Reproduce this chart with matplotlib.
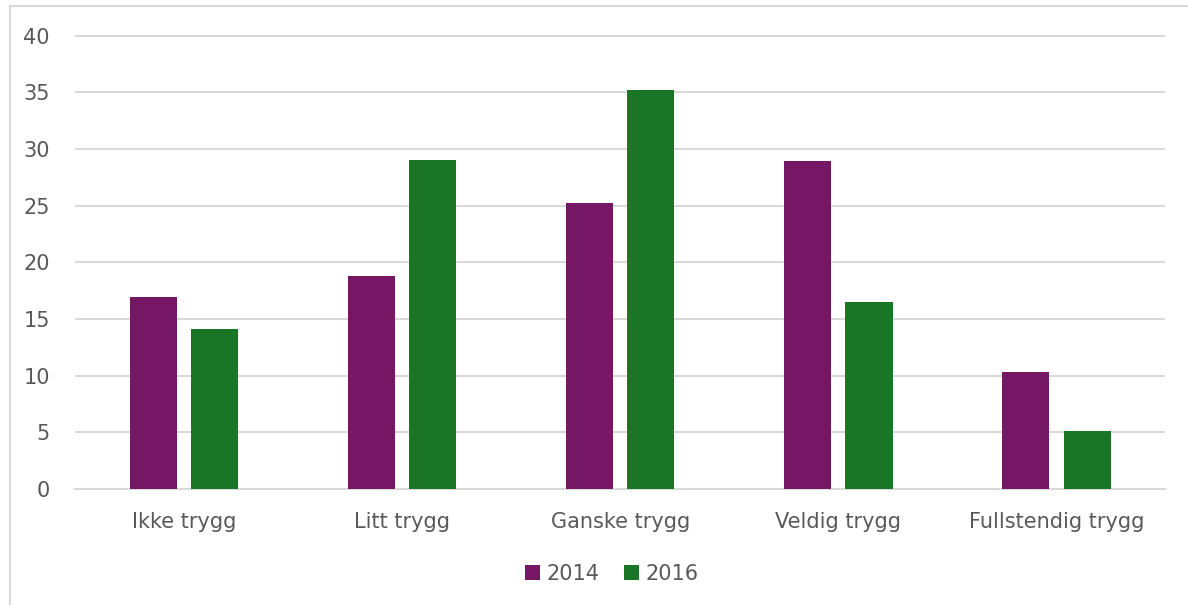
import matplotlib.pyplot as plt
import numpy as np
from matplotlib.lines import Line2D

categories = ['Ikke trygg', 'Litt trygg', 'Ganske trygg', 'Veldig trygg', 'Fullstendig trygg']
years = ['2014', '2016']
v2014 = [16.9, 18.8, 25.2, 28.9, 10.3]
v2016 = [14.1, 29.0, 35.2, 16.5, 5.1]

purple = '#761766'
green = '#1a7526'
txt = '#595959'
grid = '#d9d9d9'

plt.rcParams['font.family'] = ['DejaVu Sans']

fig = plt.figure(figsize=(11.88, 6.05), dpi=100)
ax = fig.add_axes([0.063, 0.192, 0.918, 0.750])

x = np.arange(len(categories))
w = 0.216
ax.bar(x - 0.141, v2014, w, color=purple, label=years[0], zorder=3)
ax.bar(x + 0.141, v2016, w, color=green, label=years[1], zorder=3)

ax.set_xlim(-0.5, len(categories) - 0.5)
ax.set_ylim(0, 40.05)
ax.set_yticks(range(0, 41, 5))
ax.yaxis.grid(True, color=grid, linewidth=1.5, zorder=0)
ax.set_axisbelow(True)
for s in ['top', 'right', 'left']:
    ax.spines[s].set_visible(False)
ax.spines['bottom'].set_color(grid)
ax.spines['bottom'].set_linewidth(1.5)
ax.tick_params(length=0, colors=txt, labelsize=15)
ax.tick_params(axis='y', pad=18)
ax.tick_params(axis='x', pad=17)
ax.set_xticks(x)
ax.set_xticklabels(categories)

fig.legend(loc='center', bbox_to_anchor=(0.515, 0.052), ncol=2, frameon=False,
           fontsize=15, labelcolor=txt, handlelength=0.7, handleheight=0.7,
           handletextpad=0.3, columnspacing=1.2)

# outer border (top and left only)
fig.add_artist(Line2D([10 / 1188, 10 / 1188], [0, 1 - 6 / 605], transform=fig.transFigure, color=grid, linewidth=1.5))
fig.add_artist(Line2D([10 / 1188, 1], [1 - 6 / 605, 1 - 6 / 605], transform=fig.transFigure, color=grid, linewidth=1.5))

fig.savefig('out.png', dpi=100)
